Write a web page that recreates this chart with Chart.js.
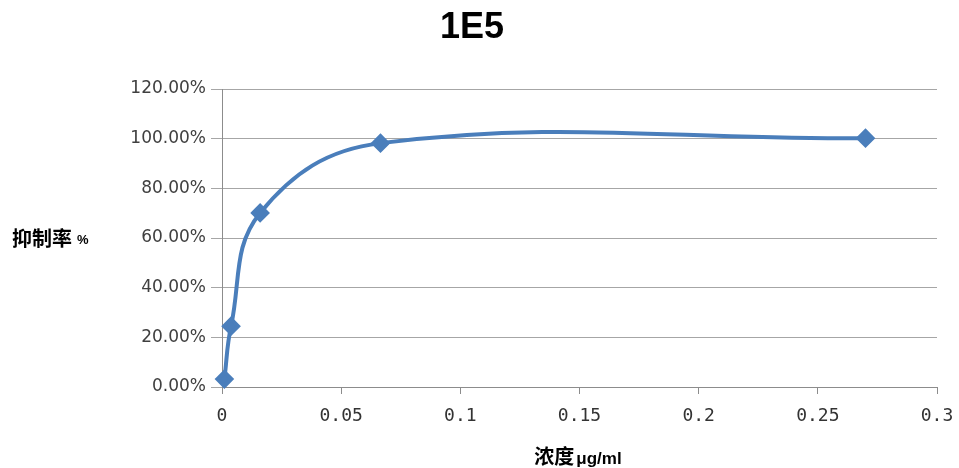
<!DOCTYPE html>
<html>
<head>
<meta charset="utf-8">
<script src="https://cdn.jsdelivr.net/npm/chart.js@4/dist/chart.umd.min.js"></script>
<style>
html,body{margin:0;padding:0;background:#fff;}
#wrap{width:959px;height:468px;position:relative;}
</style>
</head>
<body>
<div id="wrap"><canvas id="c" width="959" height="468"></canvas></div>
<script>
const chartTitle = '1E5';
const yTitleMain = '抑制率';
const yTitleUnit = '%';
const xTitleMain = '浓度';
const xTitleUnit = 'μg/ml';
const concentrations = [0.001, 0.0038, 0.016, 0.0665, 0.27];
const inhibition = [0.032, 0.245, 0.701, 0.982, 1.002];
const yTickValues = [0, 0.2, 0.4, 0.6, 0.8, 1.0, 1.2];
const yTickLabels = ['0.00%', '20.00%', '40.00%', '60.00%', '80.00%', '100.00%', '120.00%'];
const xTickValues = [0, 0.05, 0.1, 0.15, 0.2, 0.25, 0.3];
const xTickLabels = ['0', '0.05', '0.1', '0.15', '0.2', '0.25', '0.3'];

const seriesColor = '#4a7ebb';

const textPlugin = {
  id: 'texts',
  afterDraw(chart) {
    const ctx = chart.ctx;
    ctx.save();
    ctx.fillStyle = '#000';
    ctx.textBaseline = 'middle';
    // title
    ctx.font = 'bold 36px "Liberation Sans", Arial, sans-serif';
    ctx.textAlign = 'center';
    ctx.fillText(chartTitle, 472, 28);
    // y title
    ctx.textAlign = 'left';
    ctx.font = 'bold 20px "Noto Sans CJK SC", sans-serif';
    ctx.fillText(yTitleMain, 12, 238);
    let w = ctx.measureText(yTitleMain).width;
    ctx.font = 'bold 13px "Liberation Sans", Arial, sans-serif';
    ctx.fillText(yTitleUnit, 12 + w + 5, 240);
    // x title
    ctx.font = 'bold 20px "Noto Sans CJK SC", sans-serif';
    const w1 = ctx.measureText(xTitleMain).width;
    ctx.font = 'bold 17px "Liberation Sans Narrow", "Liberation Sans", Arial, sans-serif';
    const w2 = ctx.measureText(xTitleUnit).width;
    const x0 = 578 - (w1 + w2 + 2) / 2;
    ctx.font = 'bold 20px "Noto Sans CJK SC", sans-serif';
    ctx.fillText(xTitleMain, x0, 456);
    ctx.font = 'bold 17px "Liberation Sans Narrow", "Liberation Sans", Arial, sans-serif';
    ctx.fillText(xTitleUnit, x0 + w1 + 2, 459);
    ctx.restore();
  }
};

new Chart(document.getElementById('c'), {
  type: 'scatter',
  data: {
    datasets: [{
      data: concentrations.map((x, i) => ({x: x, y: inhibition[i]})),
      showLine: true,
      borderColor: seriesColor,
      backgroundColor: seriesColor,
      borderWidth: 4,
      tension: 0.4,
      pointStyle: 'rectRot',
      pointRadius: 7,
      pointHoverRadius: 7,
      clip: false
    }]
  },
  options: {
    responsive: false,
    animation: false,
    events: [],
    layout: { padding: { top: 89, right: 22, left: 0, bottom: 0 } },
    plugins: { legend: { display: false }, tooltip: { enabled: false }, title: { display: false } },
    scales: {
      x: {
        type: 'linear',
        min: 0, max: 0.3,
        afterBuildTicks: s => { s.ticks = xTickValues.map(v => ({value: v})); },
        afterFit: s => { s.height = 81; s.paddingLeft = 0; s.paddingRight = 0; },
        border: { display: true, color: '#8c8c8c', width: 1 },
        grid: { drawOnChartArea: false, drawTicks: true, tickLength: 7, color: '#8c8c8c' },
        ticks: {
          maxRotation: 0,
          autoSkip: false,
          padding: 12,
          color: '#333',
          font: { family: '"DejaVu Sans Mono", monospace', size: 18 },
          callback: (v, i) => xTickLabels[i]
        }
      },
      y: {
        min: 0, max: 1.2,
        afterBuildTicks: s => { s.ticks = yTickValues.map(v => ({value: v})); },
        afterFit: s => { s.width = 222; s.paddingTop = 0; s.paddingBottom = 0; },
        border: { display: true, color: '#8c8c8c', width: 1 },
        grid: { color: '#a6a6a6', tickLength: 11, lineWidth: 1 },
        ticks: {
          padding: 5,
          color: '#404040',
          font: { family: '"DejaVu Sans", sans-serif', size: 17 },
          callback: (v, i) => yTickLabels[i]
        }
      }
    }
  },
  plugins: [textPlugin]
});
</script>
</body>
</html>
